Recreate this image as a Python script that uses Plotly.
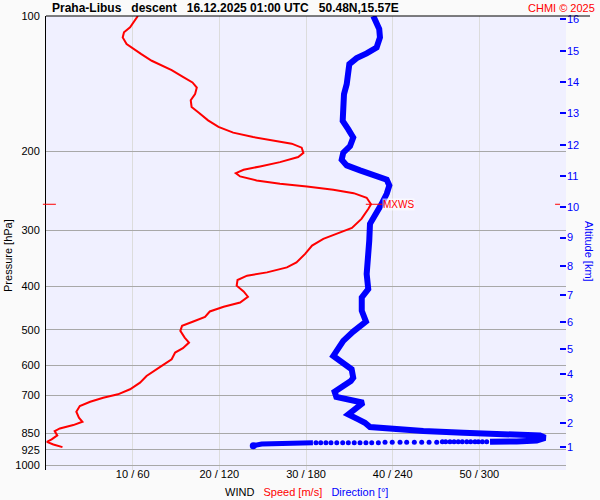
import math
import plotly.graph_objects as go

# ---------------- data ----------------
speed_ms = [10.6, 9.7, 9.0, 8.85, 9.3, 10.1, 11.0, 12.2, 13.35, 14.5,
            15.8, 16.9, 17.4, 17.2, 16.7, 16.8, 17.6, 18.7, 19.9, 21.6,
            23.9, 26.2, 28.35, 29.5, 29.7, 29.1, 27.0, 24.7, 22.8, 21.9,
            22.4, 24.3, 27.0, 30.1, 33.15, 35.5, 37.0, 37.5, 37.2, 36.4,
            35.3, 33.5, 32.0, 30.7, 29.9, 28.9, 27.8, 25.5, 23.2, 22.1,
            22.0, 22.8, 23.3, 22.4, 20.5, 18.9, 18.35, 17.0, 15.7, 15.5,
            16.0, 16.5, 15.8, 14.9, 14.5, 13.35, 12.4, 11.6, 10.85, 9.7,
            8.3, 6.6, 5.1, 3.9, 3.5, 3.8, 4.2, 3.15, 1.6, 1.0,
            1.3, 0.65, 0.1, 0.85, 1.9]
speed_hpa = [100, 106.0, 108.7, 111.6, 115.5, 118.5, 121.6, 125.8, 129.1, 132.0,
             136.6, 140.6, 144.3, 149.3, 154.0, 159.4, 164.0, 170.7, 176.6, 181.8,
             186.0, 189.1, 192.4, 196.4, 201.7, 206.1, 211.5, 216.2, 219.9, 223.8,
             227.6, 232.3, 236.3, 239.6, 243.7, 248.0, 253.9, 262.5, 268.7, 282.9,
             296.3, 305.5, 313.5, 324.5, 338.6, 353.6, 362.8, 372.2, 378.6, 387.0,
             398.5, 410.4, 421.7, 434.3, 444.0, 454.8, 467.4, 478.8, 489.5, 502.3,
             519.9, 533.4, 549.0, 561.5, 580.9, 601.2, 616.9, 633.0, 655.1, 677.7,
             695.4, 707.6, 722.3, 738.5, 760.4, 784.2, 800.5, 814.2, 828.2, 839.7,
             858.5, 876.3, 887.2, 899.1, 911.7]

dir_deg = [226.6, 228.5, 230.7, 231.2, 228.9, 222.0, 215.1, 210.0, 209.3, 208.2,
           206.3, 205.4, 205.4, 209.3, 212.7, 210.5, 205.8, 204.7, 208.2, 217.4,
           227.8, 235.9, 237.7, 235.9, 232.4, 227.8, 224.3, 223.8, 223.1, 222.0,
           223.1, 218.6, 218.6, 221.5, 212.7, 205.8, 198.9, 204.7, 211.6, 212.7,
           211.0, 199.8, 201.0, 219.7, 212.7, 209.3, 216.2, 220.8, 224.3, 235.9,
           261.2, 288.9, 323.5, 342.0, 345.5, 339.7, 325.9, 307.4]
dir_hpa = [100, 103.3, 106.9, 111.6, 117.5, 121.1, 124.1, 128.0, 133.6, 141.8,
           149.3, 162.7, 171.3, 178.8, 186.5, 194.8, 201.5, 208.9, 215.1, 220.7,
           226.4, 231.5, 238.4, 248.7, 261.9, 275.7, 290.2, 316.2, 344.6, 375.3,
           405.4, 423.2, 453.2, 478.8, 504.1, 528.7, 571.1, 591.1, 611.5, 638.5,
           649.4, 686.1, 705.1, 726.1, 751.1, 770.6, 790.7, 804.7, 822.7, 828.2,
           839.7, 847.1, 851.5, 858.5, 869.1, 880.8, 885.4, 887.2]

# sparse samples near the ground (drawn as separate dots)
dots_deg = [305.1, 302.1, 299.3, 297.0, 294.0, 291.3, 288.2, 285.4, 282.5, 279.7, 276.7, 274.4,
            270.5, 265.2, 260.1, 255.0, 249.7, 245.1, 239.7, 234.7,
            230.1, 225.5, 221.5, 217.4, 213.4, 209.3, 205.4, 201.3, 197.3, 193.8, 190.2, 186.9]
dots_hpa = [887] * 12 + [889] * 8 + [891.5] * 12

tail_deg = [184.8, 160.6, 149.3, 143.5]
tail_hpa = [891.5, 891.5, 897.2, 904.7]

p_ticks = [100, 200, 300, 400, 500, 600, 700, 850, 925, 1000]
x_tickvals = [10, 20, 30, 40, 50, 60]
x_ticktext = ["10 / 60", "20 / 120", "30 / 180", "40 / 240", "50 / 300", ""]

alt_km = [str(k) for k in range(1, 17)]
alt_hpa = [910.4, 804.7, 708.7, 626.3, 550.8, 479.4, 417.4, 360.9, 311.4, 266.6,
           227.2, 194.1, 164.6, 140.2, 119.5, 101.6]

title_txt = "Praha-Libus\u00a0\u00a0 descent\u00a0\u00a0 16.12.2025 01:00 UTC\u00a0\u00a0 50.48N,15.57E"

# ---------------- figure ----------------
FONT = "Liberation Sans, Arial, sans-serif"
RED = "#ff0000"
BLUE = "#0000ff"
PAPER = "#fafafa"

fig = go.Figure()

fig.add_trace(go.Scatter(x=speed_ms, y=speed_hpa, mode="lines",
                         line=dict(color=RED, width=2), xaxis="x", yaxis="y",
                         showlegend=False, hoverinfo="skip"))

# direction on the same 0..60 axis (360 deg = 60 units)
k = 60.0 / 360.0
fig.add_trace(go.Scatter(x=[d * k for d in dir_deg], y=dir_hpa, mode="lines",
                         line=dict(color=BLUE, width=6), showlegend=False, hoverinfo="skip"))
fig.add_trace(go.Scatter(x=[d * k for d in dots_deg], y=dots_hpa, mode="markers",
                         marker=dict(color=BLUE, size=5), showlegend=False, hoverinfo="skip"))
fig.add_trace(go.Scatter(x=[d * k for d in tail_deg], y=tail_hpa, mode="lines",
                         line=dict(color=BLUE, width=5), showlegend=False, hoverinfo="skip"))
fig.add_trace(go.Scatter(x=[tail_deg[-1] * k], y=[tail_hpa[-1]], mode="markers",
                         marker=dict(color=BLUE, size=7), showlegend=False, hoverinfo="skip"))

# dummy trace to bind the altitude axis
fig.add_trace(go.Scatter(x=[None], y=[None], yaxis="y2", showlegend=False, hoverinfo="skip"))

yr = [math.log10(1025), 2]

fig.update_layout(
    template="none",
    width=600, height=500,
    margin=dict(l=46, r=34, t=16, b=30, autoexpand=False),
    paper_bgcolor=PAPER, plot_bgcolor="#f0f0ff",
    font=dict(family=FONT, size=11, color="#000"),
    xaxis=dict(range=[0, 60], tickvals=x_tickvals, ticktext=x_ticktext, automargin=False,
               showgrid=True, gridcolor="#dcdcdc", gridwidth=1, zeroline=False,
               showline=False, ticks="", ticklabelstandoff=-4,
               tickfont=dict(size=11, color="#000")),
    yaxis=dict(type="log", range=yr, tickvals=p_ticks, ticktext=[str(p) for p in p_ticks],
               automargin=False,
               showgrid=True, gridcolor="#a8a8a8", gridwidth=1, zeroline=False,
               showline=True, linecolor="#000", linewidth=1,
               ticks="outside", ticklen=3, tickcolor="rgba(0,0,0,0)",
               tickfont=dict(size=11, color="#000")),
    yaxis2=dict(type="log", range=yr, overlaying="y", side="right", automargin=False,
                tickvals=alt_hpa, ticktext=alt_km, showgrid=False, zeroline=False,
                showline=False, ticks="inside", ticklen=6, tickwidth=1.5,
                tickcolor=BLUE, tickfont=dict(size=11, color=BLUE)),
)

# max wind marker
i_mx = max(range(len(speed_ms)), key=lambda i: speed_ms[i])
mx_s, mx_p = speed_ms[i_mx], speed_hpa[i_mx]

shapes = [
    dict(type="line", xref="paper", yref="paper", x0=0, x1=1.0462, y0=1, y1=1,
         line=dict(color="#000", width=1)),
    dict(type="line", xref="paper", yref="y", x0=-0.006, x1=0.019, y0=mx_p, y1=mx_p,
         line=dict(color=RED, width=1)),
    dict(type="line", xref="paper", yref="y", x0=0.979, x1=0.9885, y0=mx_p, y1=mx_p,
         line=dict(color=RED, width=1)),
    dict(type="line", xref="x", yref="y", x0=mx_s - 0.6, x1=mx_s + 1.3, y0=mx_p, y1=mx_p,
         line=dict(color=RED, width=1)),
]
fig.update_layout(shapes=shapes)

ann = [
    dict(text="<b>" + title_txt + "</b>", xref="paper", yref="paper", x=0.0077, y=1.0176,
         xanchor="left", yanchor="middle", showarrow=False, font=dict(size=12, color="#000")),
    dict(text="CHMI © 2025", xref="paper", yref="paper", x=1.0596, y=1.0176,
         xanchor="right", yanchor="middle", showarrow=False, font=dict(size=11, color=RED)),
    dict(text="Pressure [hPa]", xref="paper", yref="paper", x=-0.0731, y=0.4736,
         xanchor="center", yanchor="middle", textangle=-90, showarrow=False,
         font=dict(size=11, color="#000")),
    dict(text="Altitude [km]", xref="paper", yref="paper", x=1.0442, y=0.48,
         xanchor="center", yanchor="middle", textangle=90, showarrow=False,
         font=dict(size=11, color=BLUE)),
    dict(text="WIND\u00a0\u00a0 <span style='color:#ff0000'>Speed [m/s]</span>\u00a0\u00a0 "
              "<span style='color:#0000ff'>Direction [°]</span>",
         xref="paper", yref="paper", x=0.5, y=-0.0485, xanchor="center", yanchor="middle",
         showarrow=False, font=dict(size=11, color="#000")),
    dict(text="MXWS", xref="x", yref="y", x=mx_s + 1.3, y=math.log10(mx_p),
         xanchor="left", yanchor="middle", showarrow=False, bgcolor="rgba(255,255,255,0.6)",
         borderpad=0, font=dict(size=10, color=RED)),
]
fig.update_layout(annotations=ann)

fig.write_html(
    "out.html",
    config={"displayModeBar": False},
    post_script="document.body.style.margin='0';document.body.style.background='" + PAPER + "';",
)
